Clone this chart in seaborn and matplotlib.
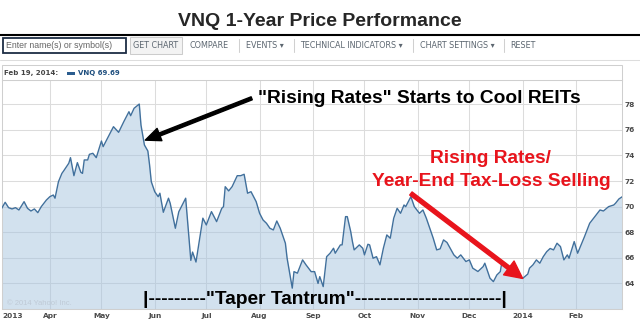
import pandas as pd
import matplotlib
matplotlib.use("Agg")
import matplotlib.pyplot as plt
import matplotlib.dates as mdates
from matplotlib.lines import Line2D
from matplotlib.patches import Rectangle
import seaborn as sns

# VNQ closing prices; offsets are calendar days counted from start_date
start_date = "2013-03-03"
day_offsets = [
    1, 3, 5, 7, 9, 11, 14, 16, 18, 20,
    22, 24, 27, 29, 31, 32, 34, 36, 37, 40,
    41, 43, 45, 47, 48, 49, 51, 52, 54, 56,
    59, 60, 63, 66, 69, 72, 75, 76, 78, 81,
    82, 84, 86, 87, 88, 90, 92, 93, 95, 98,
    99, 102, 104, 108, 111, 112, 114, 118, 120, 123,
    126, 129, 130, 131, 133, 135, 138, 140, 142, 144,
    146, 149, 151, 153, 155, 157, 159, 161, 163, 166,
    167, 170, 171, 173, 176, 178, 181, 183, 185, 186,
    188, 190, 192, 194, 195, 198, 199, 201, 202, 204,
    205, 206, 209, 211, 212, 214, 215, 217, 219, 221,
    223, 225, 227, 229, 231, 233, 235, 236, 238, 239,
    241, 244, 246, 248, 250, 252, 254, 256, 258, 260,
    264, 266, 268, 271, 273, 275, 278, 281, 282, 285,
    287, 289, 291, 292, 294, 296, 298, 300, 302, 304,
    307, 308, 310, 312, 314, 316, 318, 320, 322, 324,
    326, 328, 330, 331, 334, 336, 338, 340, 343, 346,
    349, 351, 354, 357, 358, 360, 362,
]
prices = [
    69.87, 70.34, 69.92, 69.82, 69.92, 69.74, 70.39, 69.87, 69.66, 69.82,
    69.53, 70.00, 70.52, 70.78, 70.91, 70.66, 71.95, 72.60, 72.79, 73.39,
    73.83, 72.42, 73.44, 72.69, 72.60, 73.65, 73.65, 74.09, 74.17, 73.83,
    75.13, 74.69, 75.47, 76.25, 75.81, 76.64, 77.42, 77.11, 77.69, 78.02,
    76.38, 74.82, 74.35, 73.26, 71.95, 71.17, 70.78, 71.05, 69.56, 70.66,
    70.26, 68.31, 69.60, 70.66, 65.80, 66.45, 65.67, 69.10, 68.57, 69.61,
    68.83, 69.87, 70.00, 71.56, 71.23, 71.56, 72.42, 72.42, 72.53, 71.05,
    71.17, 70.39, 69.48, 68.96, 68.70, 68.31, 68.18, 68.88, 68.31, 67.14,
    65.97, 63.63, 64.92, 64.80, 65.84, 65.45, 64.92, 64.92, 64.00, 64.53,
    63.75, 66.09, 66.36, 66.75, 66.36, 67.01, 67.01, 69.22, 69.22, 68.05,
    67.27, 66.62, 67.01, 66.75, 66.23, 67.06, 67.01, 65.97, 66.09, 65.45,
    66.75, 67.79, 67.53, 69.09, 69.87, 69.48, 70.13, 70.00, 70.52, 70.78,
    70.00, 69.48, 69.74, 69.09, 68.31, 67.53, 66.62, 66.70, 67.40, 67.20,
    66.23, 65.97, 66.23, 65.71, 65.84, 65.19, 64.93, 65.31, 65.58, 64.41,
    64.14, 64.66, 64.92, 65.71, 65.31, 65.19, 65.00, 64.80, 64.50, 64.39,
    64.73, 65.19, 65.45, 65.84, 65.58, 66.09, 66.48, 66.73, 66.62, 67.14,
    66.88, 65.84, 66.23, 65.97, 67.27, 66.36, 67.01, 67.66, 68.70, 69.22,
    69.74, 69.66, 70.00, 70.13, 70.26, 70.60, 70.78,
]

month_ticks = ["2013-04-01", "2013-05-01", "2013-06-01", "2013-07-01",
               "2013-08-01", "2013-09-01", "2013-10-01", "2013-11-01",
               "2013-12-01", "2014-01-01", "2014-02-01"]
month_labels = ["Apr", "May", "Jun", "Jul", "Aug", "Sep", "Oct", "Nov",
                "Dec", "2014", "Feb"]
year_label = "2013"
price_ticks = [64, 66, 68, 70, 72, 74, 76, 78]
legend_date = "Feb 19, 2014:"
legend_series = "VNQ 69.69"

LINE = "#41709c"
FILL = "#a6c4df"
GRID = "#dcdcdc"
RED = "#e8141c"
TICK_TXT = "#4a4a4a"
TOOL_TXT = "#5c6670"

sns.set_style("white")

W, H = 640, 323
fig = plt.figure(figsize=(W / 100, H / 100), dpi=100)
fig.patch.set_facecolor("white")


def fx(x):
    return x / W


def fy(y):
    return 1 - y / H


start = pd.Timestamp(start_date)
df = pd.DataFrame({
    "date": start + pd.to_timedelta(day_offsets, unit="D"),
    "price": prices,
})

# ---- price panel ----
ax = fig.add_axes([fx(2), fy(309), (622 - 2) / W, (309 - 80) / H])
ax.fill_between(df["date"], df["price"], 62, color=FILL, alpha=0.5, lw=0, zorder=1)
sns.lineplot(data=df, x="date", y="price", ax=ax, color=LINE, lw=1.0, zorder=3)

ax.set_xlim(start + pd.Timedelta(days=1.16), start + pd.Timedelta(days=361.8))
ax.set_ylim(62, 79.9)
ax.set_xlabel("")
ax.set_ylabel("")

ax.set_xticks(pd.to_datetime(month_ticks))
ax.set_xticklabels(month_labels)
ax.set_xticks([start + pd.Timedelta(days=7.6)], minor=True)
ax.set_xticklabels([year_label], minor=True)

ax.yaxis.tick_right()
ax.set_yticks(price_ticks)
ax.set_yticklabels([str(v) for v in price_ticks])

ax.grid(True, which="major", color=GRID, lw=0.75)
ax.grid(False, which="minor")
ax.set_axisbelow(True)
ax.tick_params(axis="both", which="both", length=0, labelsize=5.3,
               labelcolor=TICK_TXT)
ax.tick_params(axis="x", which="both", pad=3)
ax.tick_params(axis="y", pad=2)
for lab in ax.get_xticklabels(which="both") + ax.get_yticklabels():
    lab.set_fontweight("bold")
for sp in ax.spines.values():
    sp.set_color("#cfcfcf")
    sp.set_linewidth(0.75)

# ---- annotations ----
ann_font = dict(family="Liberation Sans", fontweight="bold")

tip_black = (mdates.date2num(start + pd.Timedelta(days=84.5)), 75.2)
tail_black = (mdates.date2num(start + pd.Timedelta(days=146.4)), 78.47)
ax.annotate("", xy=tip_black, xytext=tail_black,
            arrowprops=dict(facecolor="black", edgecolor="black", width=2.3,
                            headwidth=9.5, headlength=11, shrink=0),
            zorder=5)

# red arrow runs from the autumn high to the year-end low
autumn = df[(df["date"] > start + pd.Timedelta(days=200))
            & (df["date"] < start + pd.Timedelta(days=260))]
year_end = df[(df["date"] > start + pd.Timedelta(days=295))
              & (df["date"] < start + pd.Timedelta(days=320))]
peak = autumn["price"].idxmax()
low = year_end["price"].idxmin()
ax.annotate("", xy=(mdates.date2num(df.loc[low, "date"]), df.loc[low, "price"]),
            xytext=(mdates.date2num(df.loc[peak, "date"]), df.loc[peak, "price"] + 0.25),
            arrowprops=dict(facecolor=RED, edgecolor=RED, width=2.8,
                            headwidth=12.5, headlength=12.5, shrink=0),
            zorder=5)

fig.text(fx(258), fy(103), '"Rising Rates" Starts to Cool REITs',
         fontsize=13.8, color="black", va="baseline", **ann_font)
fig.text(fx(491), fy(163), "Rising Rates/", fontsize=13.8, color=RED,
         ha="center", va="baseline", **ann_font)
fig.text(fx(491), fy(185.5), "Year-End Tax-Loss Selling", fontsize=13.8,
         color=RED, ha="center", va="baseline", **ann_font)
fig.text(fx(143), fy(303.5),
         '|---------"Taper Tantrum"-----------------------|',
         fontsize=13.8, color="black", va="baseline", **ann_font)
fig.text(fx(7), fy(305), "\u00a9 2014 Yahoo! Inc.", fontsize=5.5,
         color="#bfcad6", family="Liberation Sans", va="baseline")

# ---- legend strip above the panel ----
fig.add_artist(Rectangle((fx(2), fy(80)), (622 - 2) / W, (80 - 65) / H,
                         transform=fig.transFigure, facecolor="white",
                         edgecolor="#cfcfcf", lw=0.75))
fig.text(fx(4), fy(73), legend_date, fontsize=5.0, fontweight="bold",
         color="#444444", va="center")
fig.add_artist(Rectangle((fx(67), fy(74.5)), 8 / W, 3 / H,
                         transform=fig.transFigure, facecolor="#2b5d8f",
                         edgecolor="none"))
fig.text(fx(78), fy(73), legend_series, fontsize=5.0, fontweight="bold",
         color="#1f4f7f", va="center")

# ---- title and toolbar ----
fig.text(fx(320), fy(26.5), "VNQ 1-Year Price Performance", ha="center",
         va="baseline", fontsize=14, fontweight="bold", family="Liberation Sans")
fig.add_artist(Line2D([0, 1], [fy(34.5), fy(34.5)], transform=fig.transFigure,
                      color="black", lw=1.5))
fig.add_artist(Line2D([0, 1], [fy(59.5), fy(59.5)], transform=fig.transFigure,
                      color="#dddddd", lw=0.75))

fig.add_artist(Rectangle((fx(3), fy(53)), 123 / W, 15 / H,
                         transform=fig.transFigure, facecolor="white",
                         edgecolor="#1d2d44", lw=1.3))
fig.text(fx(6), fy(45.5), "Enter name(s) or symbol(s)", fontsize=6.3,
         color="#666666", family="Liberation Sans", va="center")
fig.add_artist(Rectangle((fx(130), fy(54)), 52 / W, 17 / H,
                         transform=fig.transFigure, facecolor="#f3f3f3",
                         edgecolor="#cccccc", lw=0.75))
fig.text(fx(156), fy(45.5), "GET CHART", fontsize=5.8, color=TOOL_TXT,
         ha="center", va="center")

toolbar_items = [(190, "COMPARE"), (246, "EVENTS \u25be"),
                 (300, "TECHNICAL INDICATORS \u25be"),
                 (420, "CHART SETTINGS \u25be"), (510, "RESET")]
for x0, label in toolbar_items:
    fig.text(fx(x0), fy(45.5), label, fontsize=5.8, color=TOOL_TXT,
             va="center")
for xs in [239, 294, 413, 504]:
    fig.add_artist(Line2D([fx(xs), fx(xs)], [fy(39), fy(52)],
                          transform=fig.transFigure, color="#d0d0d0", lw=0.75))

fig.savefig("out.png", dpi=100)
